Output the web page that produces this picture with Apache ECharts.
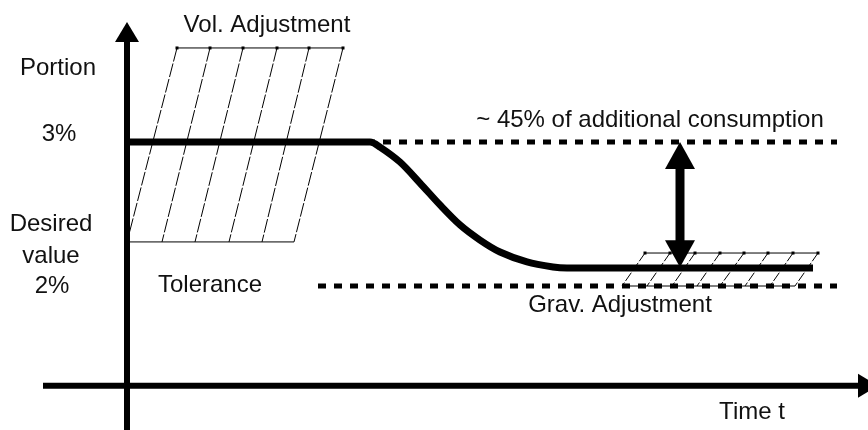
<!DOCTYPE html>
<html>
<head>
<meta charset="utf-8">
<script src="https://cdn.jsdelivr.net/npm/echarts@6/dist/echarts.min.js"></script>
<style>
  html, body { margin: 0; padding: 0; background: #fff; }
  #chart { width: 868px; height: 430px; }
</style>
</head>
<body>
<div id="chart"></div>
<script>
  // x = time, y = portion in %
  var yTickValues = [3, 2];
  var yTickLabels = ['3%', '2%'];

  // main consumption curve
  var curveT = [0, 2.43, 2.53, 2.73, 2.93, 3.13, 3.33, 3.53, 3.73, 4.00, 4.26, 4.40, 6.86];
  var curveV = [3, 3, 2.965, 2.861, 2.715, 2.563, 2.424, 2.319, 2.236, 2.167, 2.132, 2.125, 2.125];

  // dotted reference levels
  var upperLineT = [2.40, 7.10];
  var upperLineV = 3;
  var lowerLineT = [1.91, 7.10];
  var lowerLineV = 2;

  // hatched bands
  var volTopT = [0.50, 0.83, 1.16, 1.50, 1.82, 2.16];
  var volBottomT = [0.00, 0.35, 0.68, 1.02, 1.35, 1.67];
  var volTopV = 3.653;
  var volBottomV = 2.306;
  var gravTopT = [5.18, 5.43, 5.68, 5.93, 6.17, 6.41, 6.66, 6.91];
  var gravBottomT = [4.95, 5.20, 5.45, 5.70, 5.93, 6.18, 6.43, 6.68];
  var gravTopV = 2.229;
  var gravBottomV = 2.0;

  // arrows: [x1, y1, x2, y2]
  var axisArrows = [[0, 1.0, 0, 3.833], [-0.84, 1.308, 7.51, 1.308]];
  var gapArrows = [[5.53, 3.0, 5.53, 2.13]];

  var FONT = '"Liberation Sans", Arial, sans-serif';
  var INK = '#111';

  function pts(ts, v) {
    return ts.map(function (t, i) { return [t, Array.isArray(v) ? v[i] : v]; });
  }

  function line(data, lineStyle, extra) {
    var s = {
      type: 'line',
      data: data,
      symbol: 'none',
      silent: true,
      animation: false,
      lineStyle: Object.assign({color: '#000', width: 1}, lineStyle)
    };
    return Object.assign(s, extra || {});
  }

  function arrowItem(shaft, headLen, headW, both) {
    return function (params, api) {
      var a = api.coord([api.value(0), api.value(1)]);
      var b = api.coord([api.value(2), api.value(3)]);
      var len = Math.hypot(b[0] - a[0], b[1] - a[1]);
      var ux = (b[0] - a[0]) / len, uy = (b[1] - a[1]) / len;
      var nx = -uy, ny = ux;
      function head(tip, dx, dy) {
        var bx = tip[0] - dx * headLen, by = tip[1] - dy * headLen;
        return {
          type: 'polygon',
          shape: {points: [tip, [bx + nx * headW / 2, by + ny * headW / 2], [bx - nx * headW / 2, by - ny * headW / 2]]},
          style: {fill: '#000'}
        };
      }
      var s = both ? [a[0] + ux * headLen * 0.9, a[1] + uy * headLen * 0.9] : a;
      var e = [b[0] - ux * headLen * 0.9, b[1] - uy * headLen * 0.9];
      var children = [
        {type: 'line', shape: {x1: s[0], y1: s[1], x2: e[0], y2: e[1]}, style: {stroke: '#000', lineWidth: shaft}},
        head(b, ux, uy)
      ];
      if (both) children.push(head(a, -ux, -uy));
      return {type: 'group', children: children};
    };
  }

  var series = [];

  // hatch of the volumetric adjustment band
  volTopT.forEach(function (t, i) {
    series.push(line([[t, volTopV], [volBottomT[i], volBottomV]], {type: [14, 2]}, {z: 1}));
  });
  series.push(line(pts(volTopT, volTopV), {}, {z: 1, symbol: 'rect', symbolSize: 3, showSymbol: true, itemStyle: {color: '#000'}}));
  series.push(line(pts(volBottomT, volBottomV), {}, {z: 1}));

  // hatch of the gravimetric adjustment band
  gravTopT.forEach(function (t, i) {
    series.push(line([[t, gravTopV], [gravBottomT[i], gravBottomV]], {type: [10, 2]}, {z: 1}));
  });
  series.push(line(pts(gravTopT, gravTopV), {}, {z: 1, symbol: 'rect', symbolSize: 3, showSymbol: true, itemStyle: {color: '#000'}}));
  series.push(line(pts(gravBottomT, gravBottomV), {}, {z: 1}));

  // dotted levels
  series.push(line(pts(upperLineT, upperLineV), {width: 5, type: [8, 8]}, {z: 2}));
  series.push(line(pts(lowerLineT, lowerLineV), {width: 5, type: [8, 8]}, {z: 2}));

  // consumption curve
  series.push(line(pts(curveT, curveV), {width: 7}, {z: 3, smooth: 0.3}));

  // axes and the difference arrow
  series.push({
    type: 'custom', renderItem: arrowItem(6, 20, 24, false), data: axisArrows,
    encode: {x: [0, 2], y: [1, 3]}, clip: false, silent: true, animation: false, z: 4
  });
  series.push({
    type: 'custom', renderItem: arrowItem(9, 27, 30, true), data: gapArrows,
    encode: {x: [0, 2], y: [1, 3]}, clip: false, silent: true, animation: false, z: 5
  });

  function txt(text, x, y, extra) {
    return {
      type: 'text', x: x, y: y, silent: true, z: 10,
      style: Object.assign({
        text: text, font: '24px ' + FONT, fill: INK,
        textAlign: 'center', textVerticalAlign: 'middle', align: 'center', verticalAlign: 'middle'
      }, extra || {})
    };
  }

  var chart = echarts.init(document.getElementById('chart'));
  chart.setOption({
    backgroundColor: '#fff',
    animation: false,
    grid: {left: 27, right: 1, top: -2, bottom: 0, outerBoundsMode: 'none'},
    xAxis: {type: 'value', min: -1, max: 7.4, show: false},
    yAxis: {
      type: 'value', min: 1, max: 4,
      axisLine: {show: false}, axisTick: {show: false}, splitLine: {show: false},
      axisLabel: {
        customValues: yTickValues,
        inside: true, margin: 32, align: 'center', verticalAlign: 'middle',
        fontSize: 24, fontFamily: FONT, color: INK,
        formatter: function (v) {
          var i = yTickValues.indexOf(v);
          return (i === 0 ? '{hi|' : '{lo|') + yTickLabels[i] + '}';
        },
        rich: {
          hi: {fontSize: 24, fontFamily: FONT, color: INK, padding: [0, 0, 16, 0]},
          lo: {fontSize: 24, fontFamily: FONT, color: INK, padding: [0, 14, 0, 0]}
        }
      }
    },
    graphic: [
      txt('Portion', 58, 68),
      txt('Desired\nvalue', 51, 240, {lineHeight: 32}),
      txt('Vol. Adjustment', 267, 25),
      txt('Tolerance', 210, 285),
      txt('~ 45% of additional consumption', 650, 120),
      txt('Grav. Adjustment', 620, 305),
      txt('Time t', 752, 412)
    ],
    series: series
  });
</script>
</body>
</html>
